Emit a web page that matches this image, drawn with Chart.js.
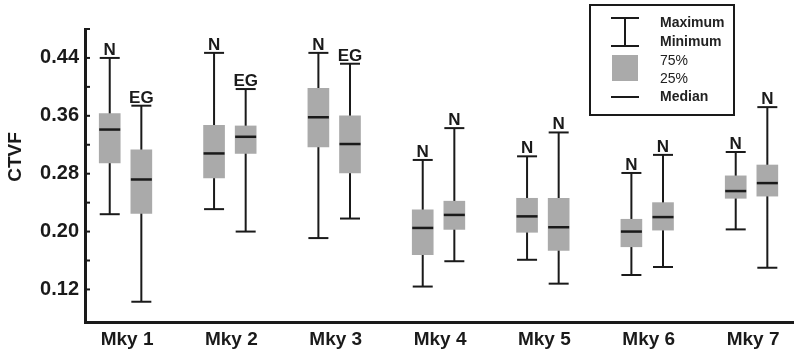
<!DOCTYPE html>
<html>
<head>
<meta charset="utf-8">
<script src="https://cdn.jsdelivr.net/npm/chart.js@4/dist/chart.umd.min.js"></script>
<style>
  html, body { margin: 0; background: #fff; }
  #wrap { width: 800px; height: 352px; }
</style>
</head>
<body>
<div id="wrap"><canvas id="myChart"></canvas></div>
<script>
const monkeys = ["Mky 1", "Mky 2", "Mky 3", "Mky 4", "Mky 5", "Mky 6", "Mky 7"];
const leftNames = ["N", "N", "N", "N", "N", "N", "N"];
const rightNames = ["EG", "EG", "EG", "N", "N", "N", "N"];

// first box of each pair
const leftMax = [0.440, 0.447, 0.447, 0.299, 0.304, 0.281, 0.310];
const leftQ3 = [0.363, 0.347, 0.398, 0.230, 0.246, 0.217, 0.277];
const leftMedian = [0.341, 0.308, 0.358, 0.205, 0.221, 0.200, 0.256];
const leftQ1 = [0.295, 0.274, 0.317, 0.168, 0.199, 0.179, 0.246];
const leftMin = [0.224, 0.231, 0.191, 0.124, 0.161, 0.140, 0.203];

// second box of each pair
const rightMax = [0.374, 0.397, 0.432, 0.343, 0.337, 0.306, 0.372];
const rightQ3 = [0.313, 0.346, 0.360, 0.242, 0.246, 0.240, 0.292];
const rightMedian = [0.272, 0.331, 0.321, 0.223, 0.206, 0.220, 0.267];
const rightQ1 = [0.225, 0.308, 0.281, 0.203, 0.174, 0.202, 0.249];
const rightMin = [0.103, 0.200, 0.218, 0.159, 0.128, 0.151, 0.150];

const yTicks = [0.12, 0.16, 0.20, 0.24, 0.28, 0.32, 0.36, 0.40, 0.44, 0.48];
const yLabelTicks = [0.12, 0.20, 0.28, 0.36, 0.44];

const INK = "#1a1a1a";
const GREY = "#aaaaaa";
const FONT = "'Liberation Sans', Arial, sans-serif";
const LEFT_OFF = -0.166;
const RIGHT_OFF = 0.137;

const leftX = monkeys.map((m, i) => i + 1 + LEFT_OFF);
const rightX = monkeys.map((m, i) => i + 1 + RIGHT_OFF);

function whiskerData() {
  let pts = [];
  monkeys.forEach((m, i) => {
    pts.push({ x: leftX[i], y: leftMin[i] }, { x: leftX[i], y: leftMax[i] }, { x: leftX[i], y: null });
    pts.push({ x: rightX[i], y: rightMin[i] }, { x: rightX[i], y: rightMax[i] }, { x: rightX[i], y: null });
  });
  return pts;
}

const boxLabels = {
  id: "boxLabels",
  afterDatasetsDraw(chart) {
    let ctx = chart.ctx;
    let x = chart.scales.x, y = chart.scales.y;
    ctx.save();
    ctx.fillStyle = INK;
    ctx.font = "bold 17px " + FONT;
    ctx.textAlign = "center";
    ctx.textBaseline = "alphabetic";
    monkeys.forEach((m, i) => {
      ctx.fillText(leftNames[i], x.getPixelForValue(leftX[i]), y.getPixelForValue(leftMax[i]) - 3);
      ctx.fillText(rightNames[i], x.getPixelForValue(rightX[i]), y.getPixelForValue(rightMax[i]) - 3);
    });
    // inward tick marks on the y axis
    ctx.strokeStyle = INK;
    ctx.lineWidth = 2;
    let ax = chart.chartArea.left;
    yTicks.forEach((v) => {
      let py = y.getPixelForValue(v);
      ctx.beginPath();
      ctx.moveTo(ax, py);
      ctx.lineTo(ax + 5, py);
      ctx.stroke();
    });
    // y axis title
    ctx.save();
    ctx.translate(16, 157);
    ctx.rotate(-Math.PI / 2);
    ctx.font = "bold 19px " + FONT;
    ctx.textBaseline = "middle";
    ctx.fillText("CTVF", 0, 0);
    ctx.restore();
    ctx.restore();
  },
  afterDraw(chart) {
    let ctx = chart.ctx;
    ctx.save();
    ctx.strokeStyle = INK;
    ctx.lineWidth = 2;
    ctx.fillStyle = "#fff";
    ctx.fillRect(590, 5, 144, 110);
    ctx.strokeRect(590, 5, 144, 110);
    // max/min symbol
    ctx.beginPath();
    ctx.moveTo(611, 18); ctx.lineTo(639, 18);
    ctx.moveTo(625, 18); ctx.lineTo(625, 46);
    ctx.moveTo(611, 46); ctx.lineTo(639, 46);
    ctx.moveTo(611, 97); ctx.lineTo(639, 97);
    ctx.stroke();
    ctx.fillStyle = GREY;
    ctx.fillRect(612, 55, 26, 26);
    ctx.fillStyle = "#222";
    ctx.textBaseline = "middle";
    ctx.textAlign = "left";
    ctx.font = "bold 14px " + FONT;
    ctx.fillText("Maximum", 660, 23);
    ctx.fillText("Minimum", 660, 42);
    ctx.fillText("Median", 660, 97);
    ctx.font = "14px " + FONT;
    ctx.fillText("75%", 660, 61);
    ctx.fillText("25%", 660, 79);
    ctx.restore();
  }
};

const ctx = document.getElementById("myChart").getContext("2d");
const chart = new Chart(ctx, {
  type: "bar",
  data: {
    datasets: [
      {
        type: "line",
        data: whiskerData(),
        borderColor: INK,
        borderWidth: 2,
        pointRadius: 0,
        spanGaps: false,
        order: 3,
      },
      {
        type: "bar",
        data: monkeys.map((m, i) => ({ x: leftX[i], y: [leftQ1[i], leftQ3[i]] })),
        backgroundColor: GREY,
        barThickness: 21,
        grouped: false,
        order: 2,
      },
      {
        type: "bar",
        data: monkeys.map((m, i) => ({ x: rightX[i], y: [rightQ1[i], rightQ3[i]] })),
        backgroundColor: GREY,
        barThickness: 21,
        grouped: false,
        order: 2,
      },
      {
        type: "line",
        data: leftX.map((x, i) => ({ x: x, y: leftMax[i] }))
          .concat(leftX.map((x, i) => ({ x: x, y: leftMin[i] })))
          .concat(rightX.map((x, i) => ({ x: x, y: rightMax[i] })))
          .concat(rightX.map((x, i) => ({ x: x, y: rightMin[i] }))),
        showLine: false,
        pointStyle: "line",
        pointRadius: 10,
        pointBorderWidth: 2,
        pointBorderColor: INK,
        order: 1,
      },
      {
        type: "line",
        data: leftX.map((x, i) => ({ x: x, y: leftMedian[i] }))
          .concat(rightX.map((x, i) => ({ x: x, y: rightMedian[i] }))),
        showLine: false,
        pointStyle: "line",
        pointRadius: 10.5,
        pointBorderWidth: 2.5,
        pointBorderColor: INK,
        order: 1,
      },
    ],
  },
  options: {
    responsive: true,
    maintainAspectRatio: false,
    animation: false,
    events: [],
    layout: { autoPadding: false, padding: { top: 29, right: 7, left: 0, bottom: 0 } },
    plugins: { legend: { display: false }, tooltip: { enabled: false } },
    scales: {
      x: {
        type: "linear",
        offset: false,
        min: 0.597,
        max: 7.383,
        grid: { display: false, drawTicks: false },
        border: { display: true, color: INK, width: 3 },
        afterBuildTicks: (s) => { s.ticks = monkeys.map((m, i) => ({ value: i + 1 })); },
        afterFit: (s) => { s.height = 30; s.paddingLeft = 0; s.paddingRight = 0; },
        ticks: {
          autoSkip: false,
          maxRotation: 0,
          padding: 6,
          color: INK,
          font: { family: FONT, size: 19, weight: "bold" },
          callback: (v, i) => monkeys[i],
        },
      },
      y: {
        type: "linear",
        min: 0.075,
        max: 0.48,
        grid: { display: false, drawTicks: false },
        border: { display: true, color: INK, width: 3 },
        afterBuildTicks: (s) => { s.ticks = yTicks.map((v) => ({ value: v })); },
        afterFit: (s) => { s.width = 85; },
        ticks: {
          padding: 6,
          color: INK,
          font: { family: FONT, size: 20, weight: "bold" },
          callback: (v) => (yLabelTicks.some((t) => Math.abs(t - v) < 1e-6) ? v.toFixed(2) : ""),
        },
      },
    },
  },
  plugins: [boxLabels],
});
</script>
</body>
</html>
